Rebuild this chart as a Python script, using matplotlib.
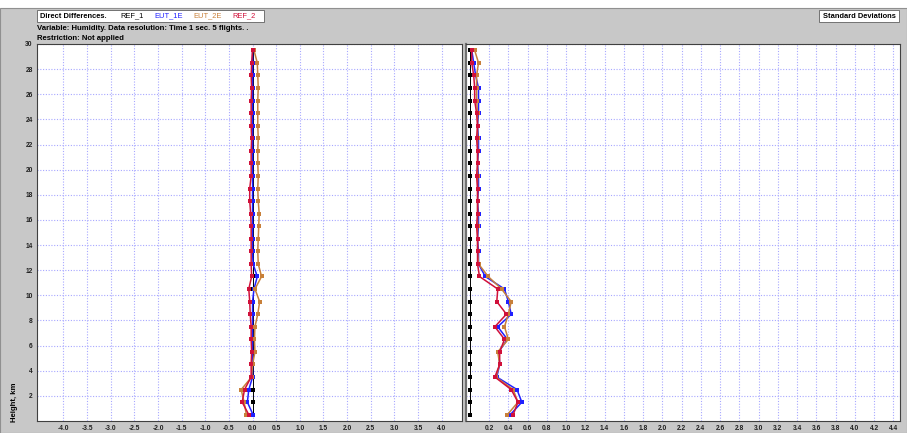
import matplotlib
matplotlib.use("Agg")
import matplotlib.pyplot as plt
from matplotlib.patches import Rectangle

plt.rcParams["font.family"] = ["Liberation Sans", "DejaVu Sans"]

# Heights of the profile levels (km)
heights = [0.5, 1.5, 2.5, 3.5, 4.5, 5.5, 6.5, 7.5, 8.5, 9.5,
           10.5, 11.5, 12.5, 13.5, 14.5, 15.5, 16.5, 17.5, 18.5, 19.5,
           20.5, 21.5, 22.5, 23.5, 24.5, 25.5, 26.5, 27.5, 28.5, 29.5]

# Direct differences against REF_1
diff_ref1 = [0.0] * 30
diff_eut1e = [0.01, -0.11, -0.08, 0.0, 0.0, 0.0, 0.0, 0.0, 0.0, 0.0,
              0.03, 0.10, 0.01, 0.0, 0.0, 0.0, 0.0, 0.0, 0.0, 0.0,
              0.0, 0.0, 0.0, 0.0, 0.0, 0.0, 0.0, 0.0, 0.0, 0.0]
diff_eut2e = [-0.13, -0.18, -0.24, -0.02, 0.0, 0.05, 0.04, 0.05, 0.11, 0.15,
              0.05, 0.19, 0.12, 0.11, 0.12, 0.13, 0.14, 0.12, 0.11, 0.12,
              0.11, 0.11, 0.12, 0.11, 0.11, 0.11, 0.12, 0.11, 0.10, 0.03]
diff_ref2 = [-0.08, -0.22, -0.17, -0.03, -0.03, -0.02, -0.03, -0.03, -0.05, -0.06,
             -0.08, -0.02, -0.03, -0.03, -0.03, -0.03, -0.04, -0.06, -0.06, -0.03,
             -0.03, -0.03, -0.02, -0.03, -0.03, -0.03, -0.02, -0.03, -0.02, 0.0]

# Standard deviations
std_ref1 = [0.0] * 30
std_eut1e = [0.42, 0.54, 0.49, 0.28, 0.31, 0.30, 0.39, 0.29, 0.43, 0.40,
             0.36, 0.16, 0.09, 0.09, 0.08, 0.09, 0.09, 0.08, 0.09, 0.09,
             0.08, 0.09, 0.09, 0.08, 0.09, 0.09, 0.09, 0.06, 0.04, 0.02]
std_eut2e = [0.39, 0.50, 0.45, 0.27, 0.31, 0.29, 0.40, 0.36, 0.40, 0.43,
             0.33, 0.19, 0.09, 0.08, 0.08, 0.08, 0.08, 0.08, 0.08, 0.08,
             0.08, 0.08, 0.08, 0.08, 0.08, 0.07, 0.07, 0.07, 0.09, 0.05]
std_ref2 = [0.45, 0.50, 0.43, 0.26, 0.31, 0.31, 0.36, 0.26, 0.38, 0.28,
            0.29, 0.10, 0.08, 0.08, 0.08, 0.07, 0.08, 0.08, 0.08, 0.07,
            0.08, 0.08, 0.07, 0.08, 0.07, 0.05, 0.05, 0.04, 0.02, 0.02]

series_names = ["REF_1", "EUT_1E", "EUT_2E", "REF_2"]
series_colors = ["#000000", "#2020ff", "#c8803a", "#d0103a"]

diff_ticks = [-4.0, -3.5, -3.0, -2.5, -2.0, -1.5, -1.0, -0.5, 0.0,
              0.5, 1.0, 1.5, 2.0, 2.5, 3.0, 3.5, 4.0]
std_ticks = [0.2, 0.4, 0.6, 0.8, 1.0, 1.2, 1.4, 1.6, 1.8, 2.0, 2.2,
             2.4, 2.6, 2.8, 3.0, 3.2, 3.4, 3.6, 3.8, 4.0, 4.2, 4.4]
height_ticks = [2, 4, 6, 8, 10, 12, 14, 16, 18, 20, 22, 24, 26, 28, 30]

W, H = 907, 433
BG = "#c8c8c8"
GRID = "#a8a8ff"
FS = 5.4


def fx(x):
    return x / W


def fy(y):
    return 1 - y / H


fig = plt.figure(figsize=(W / 100, H / 100), dpi=100)
fig.patch.set_facecolor("white")
fig.patches.append(Rectangle((0, 0), 1, fy(8), transform=fig.transFigure,
                             facecolor=BG, edgecolor="#909090", lw=0.8, zorder=-10))

ax_l = fig.add_axes([fx(37), fy(421), fx(462 - 37), (421 - 44) / H])
ax_r = fig.add_axes([fx(466), fy(421), fx(900 - 466), (421 - 44) / H])

panels = [
    (ax_l, [diff_ref1, diff_eut1e, diff_eut2e, diff_ref2], (-4.56, 4.43), diff_ticks),
    (ax_r, [std_ref1, std_eut1e, std_eut2e, std_ref2], (-0.04, 4.47), std_ticks),
]

for ax, values, xlim, xticks in panels:
    ax.set_facecolor("white")
    for i, (vals, color) in enumerate(zip(values, series_colors)):
        if i == 0:
            ax.plot(vals, heights, color=color, lw=0.7, marker="s", ms=2.3,
                    mew=0, zorder=2.5)
        else:
            ax.plot(vals, heights, color=color, lw=1.1, marker="s", ms=2.8,
                    mew=0, zorder=3)
    ax.set_xlim(*xlim)
    ax.set_ylim(0, 30)
    ax.set_xticks(xticks)
    ax.set_xticklabels(["%.1f" % t for t in xticks], fontweight="bold")
    ax.set_yticks(height_ticks)
    ax.grid(True, color=GRID, ls=(0, (1, 1.5)), lw=0.8)
    ax.set_axisbelow(True)
    ax.tick_params(length=0, labelsize=4.8, pad=3, colors="#202020")
    for sp in ax.spines.values():
        sp.set_color("#404040")
        sp.set_linewidth(0.8)

ax_l.set_yticklabels([str(t) for t in height_ticks], fontweight="bold")
ax_r.set_yticklabels([])
ax_r.spines["left"].set_linewidth(1.6)
ax_r.spines["left"].set_color("#707070")

fig.text(fx(15), fy(402), "Height, km", rotation=90, ha="center", va="center",
         fontsize=5.6, fontweight="bold")

# header legend box
fig.patches.append(Rectangle((fx(37), fy(22)), fx(264 - 37), (22 - 10) / H,
                             transform=fig.transFigure, facecolor="white",
                             edgecolor="#606060", lw=0.6, zorder=1))
fig.text(fx(40), fy(16), "Direct Differences.", fontsize=FS, fontweight="bold",
         va="center", zorder=2)
for name, color, xpos in zip(series_names, series_colors, [120, 154, 193, 232]):
    fig.text(fx(xpos), fy(16), name, color=color, fontsize=FS, va="center", zorder=2)

fig.text(fx(37), fy(28), "Variable: Humidity. Data resolution: Time 1 sec. 5 flights. .",
         fontsize=5.6, fontweight="bold", va="center")
fig.text(fx(37), fy(39), "Restriction: Not applied",
         fontsize=5.6, fontweight="bold", va="center")

fig.patches.append(Rectangle((fx(819), fy(22)), fx(899 - 819), (22 - 10) / H,
                             transform=fig.transFigure, facecolor="white",
                             edgecolor="#606060", lw=0.6, zorder=1))
fig.text(fx(859), fy(16), "Standard Deviations", fontsize=FS, fontweight="bold",
         ha="center", va="center", zorder=2)

fig.savefig("out.png", dpi=100, facecolor=fig.get_facecolor())
